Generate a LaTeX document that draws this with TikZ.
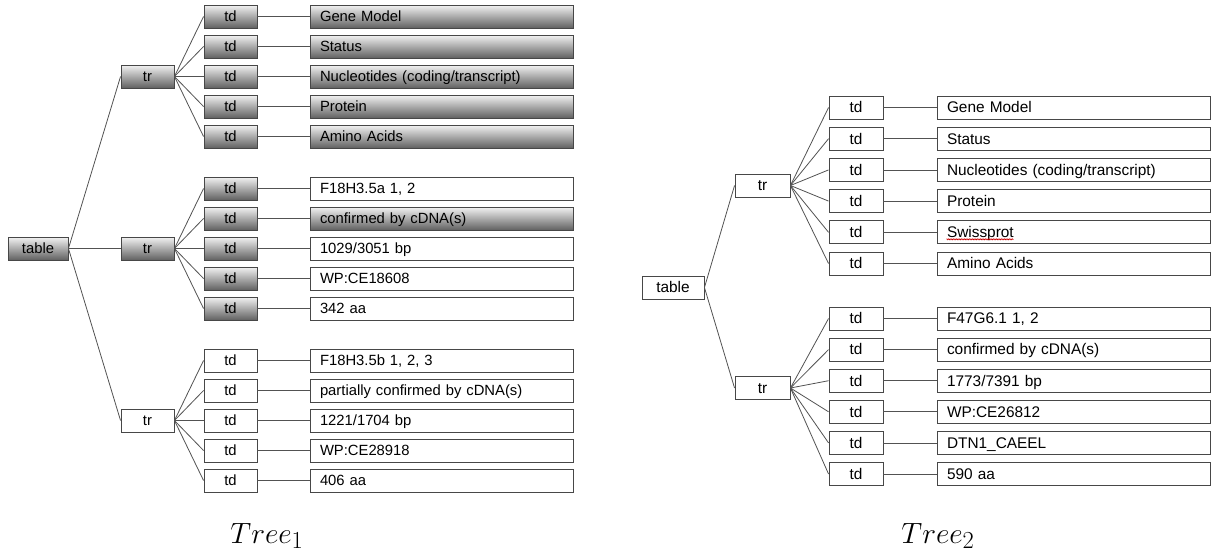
\documentclass[tikz,border=0pt]{standalone}
\usepackage{graphicx}
\usepackage{fontspec}
\newfontfamily\arialfont{Liberation Sans}
\usetikzlibrary{decorations.pathmorphing}
\begin{document}
\begin{tikzpicture}[x=1pt,y=-1pt,
  box/.style={draw=black!72, line width=0.9pt, fill=white, minimum height=23pt, inner sep=0pt,
    text height=10.6pt, text depth=0pt, font=\arialfont\fontsize{14.8}{16}\selectfont},
  boxb/.style={box, font=\arialfont\fontsize{15.4}{17}\selectfont},
  shade/.style={top color=black!5, middle color=black!27, bottom color=black!62},
  cboxa/.style={box, text width=243pt, align=left, inner xsep=10pt},
  cboxb/.style={boxb, text width=253pt, align=left, inner xsep=10pt},
  conn/.style={draw=black!68, line width=0.8pt},
  captext/.style={font=\fontsize{24.88}{30}\selectfont, anchor=base, inner sep=0pt},
  g2c1/.style={}, g2c2/.style={shade}, g2c3/.style={}, g2c4/.style={}, g2c5/.style={}]
\useasboundingbox (0,0) rectangle (1219,552);

% ---------- Tree 1 ----------
\node[box, shade, minimum width=60pt] (ta) at (38,248.5) {table};
\node[box, shade, minimum width=53pt] (ra) at (147.5,76.5) {tr};
\node[box, shade, minimum width=53pt] (rb) at (147.5,248.5) {tr};
\node[box, minimum width=53pt] (rc) at (147.5,420.5) {tr};
\draw[conn] (ta.east) -- (ra.west);
\draw[conn] (ta.east) -- (rb.west);
\draw[conn] (ta.east) -- (rc.west);

\foreach \t [count=\i] in {{Gene Model},{Status},{Nucleotides (coding/transcript)},{Protein},{Amino Acids}} {
  \node[box, shade, minimum width=53pt] (da\i) at (230.5,{16.5+30*(\i-1)}) {td};
  \node[cboxa, shade] (ca\i) at (441.5,{16.5+30*(\i-1)}) {\t};
  \draw[conn] (ra.east) -- (da\i.west);
  \draw[conn] (da\i.east) -- (ca\i.west);
}
\foreach \t [count=\i] in {{F18H3.5a 1, 2},{confirmed by cDNA(s)},{1029/3051 bp},{WP:CE18608},{342 aa}} {
  \node[box, shade, minimum width=53pt] (db\i) at (230.5,{188.5+30*(\i-1)}) {td};
  \node[cboxa, g2c\i] (cb\i) at (441.5,{188.5+30*(\i-1)}) {\t};
  \draw[conn] (rb.east) -- (db\i.west);
  \draw[conn] (db\i.east) -- (cb\i.west);
}
\foreach \t [count=\i] in {{F18H3.5b 1, 2, 3},{partially confirmed by cDNA(s)},{1221/1704 bp},{WP:CE28918},{406 aa}} {
  \node[box, minimum width=53pt] (dc\i) at (230.5,{360.5+30*(\i-1)}) {td};
  \node[cboxa] (cc\i) at (441.5,{360.5+30*(\i-1)}) {\t};
  \draw[conn] (rc.east) -- (dc\i.west);
  \draw[conn] (dc\i.east) -- (cc\i.west);
}
\node[captext] (cap1) at (267,543) {\scalebox{1.18}{$Tree_1$}};

% ---------- Tree 2 ----------
\node[boxb, minimum width=62pt] (tb) at (673,287.5) {table};
\node[boxb, minimum width=55pt] (rd) at (762.5,185.5) {tr};
\node[boxb, minimum width=55pt] (re) at (762.5,388) {tr};
\draw[conn] (tb.east) -- (rd.west);
\draw[conn] (tb.east) -- (re.west);

\foreach \t [count=\i] in {{Gene Model},{Status},{Nucleotides (coding/transcript)},{Protein},{Swissprot},{Amino Acids}} {
  \node[boxb, minimum width=54pt] (dd\i) at (856,{107.5+31.2*(\i-1)}) {td};
  \node[cboxb] (cd\i) at (1073.5,{107.5+31.2*(\i-1)}) {\t};
  \draw[conn] (rd.east) -- (dd\i.west);
  \draw[conn] (dd\i.east) -- (cd\i.west);
}
\foreach \t [count=\i] in {{F47G6.1 1, 2},{confirmed by cDNA(s)},{1773/7391 bp},{WP:CE26812},{DTN1\_CAEEL},{590 aa}} {
  \node[boxb, minimum width=54pt] (de\i) at (856,{318.5+31.1*(\i-1)}) {td};
  \node[cboxb] (ce\i) at (1073.5,{318.5+31.1*(\i-1)}) {\t};
  \draw[conn] (re.east) -- (de\i.west);
  \draw[conn] (de\i.east) -- (ce\i.west);
}
\draw[red!80!black, line width=0.5pt, decorate, decoration={zigzag, segment length=1.6pt, amplitude=0.6pt}]
  ([xshift=10pt,yshift=-7pt]cd5.west) -- ([xshift=77pt,yshift=-7pt]cd5.west);
\node[captext] (cap2) at (938,543) {\scalebox{1.18}{$Tree_2$}};
\end{tikzpicture}
\end{document}
